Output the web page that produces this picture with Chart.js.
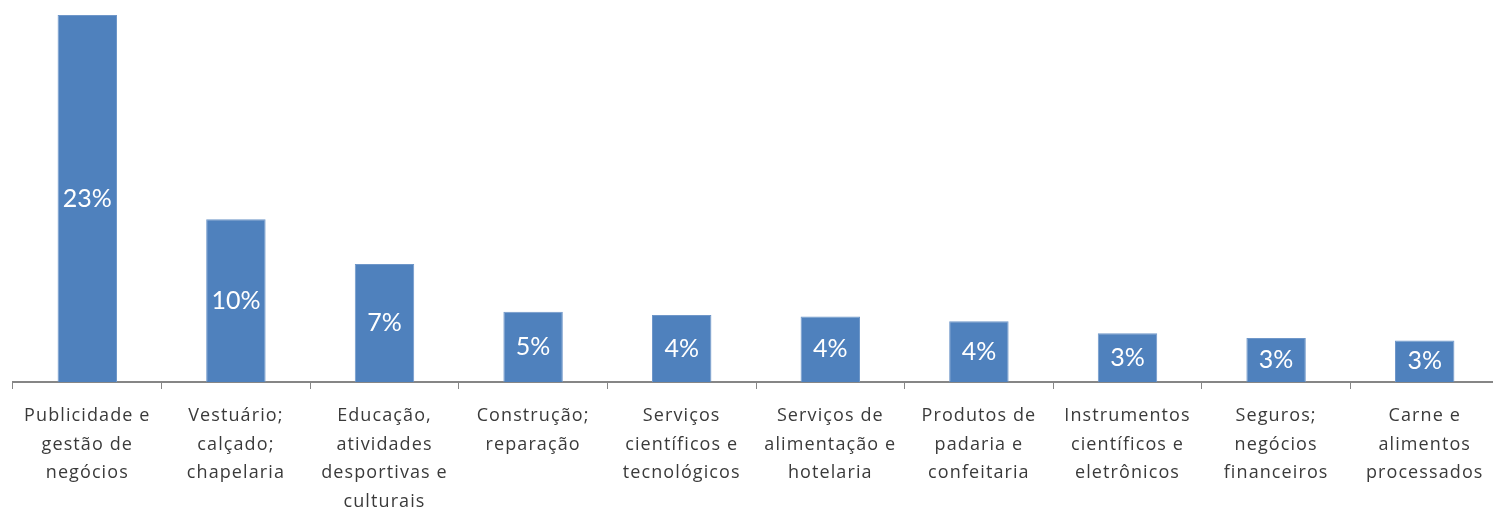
<!DOCTYPE html>
<html>
<head>
<meta charset="utf-8">
<script src="https://cdn.jsdelivr.net/npm/chart.js@4/dist/chart.umd.min.js"></script>
<style>
  html, body { margin: 0; padding: 0; background: #fff; overflow: hidden; }
  #wrap { width: 1500px; height: 512px; position: relative; }
  .warm { position: absolute; left: -9999px; top: 0; }
</style>
</head>
<body>
<div class="warm" style="font-family: Lato">23%</div>
<div class="warm" style="font-family: 'Open Sans'">Publicidade</div>
<div id="wrap"><canvas id="barChart"></canvas></div>
<script>
// categories (one array per label, one entry per line)
const categories = [
    ["Publicidade e", "gestão de", "negócios"],
    ["Vestuário;", "calçado;", "chapelaria"],
    ["Educação,", "atividades", "desportivas e", "culturais"],
    ["Construção;", "reparação"],
    ["Serviços", "científicos e", "tecnológicos"],
    ["Serviços de", "alimentação e", "hotelaria"],
    ["Produtos de", "padaria e", "confeitaria"],
    ["Instrumentos", "científicos e", "eletrônicos"],
    ["Seguros;", "negócios", "financeiros"],
    ["Carne e", "alimentos", "processados"]
];
// bar heights (percent)
const shares = [23.0, 10.2, 7.4, 4.4, 4.2, 4.1, 3.8, 3.05, 2.75, 2.6];
// the labels printed inside the bars
const shareLabels = ["23%", "10%", "7%", "5%", "4%", "4%", "4%", "3%", "3%", "3%"];

const LABEL_FONT = "'Open Sans', sans-serif";
const VALUE_FONT = "Lato, 'Open Sans', sans-serif";

// a little tracking for the axis text, like the original
const tracking = {
    id: "tracking",
    beforeDraw(chart) {
        chart.ctx.letterSpacing = "1.1px";
    }
};

// writes the percentage in the middle of each bar
const insideLabels = {
    id: "insideLabels",
    afterDatasetsDraw(chart) {
        const ctx = chart.ctx;
        const meta = chart.getDatasetMeta(0);
        ctx.save();
        ctx.letterSpacing = "0px";
        ctx.fillStyle = "#ffffff";
        ctx.font = "25px " + VALUE_FONT;
        ctx.textAlign = "center";
        ctx.textBaseline = "middle";
        meta.data.forEach((bar, i) => {
            ctx.fillText(shareLabels[i], bar.x, (bar.y + bar.base) / 2);
        });
        ctx.restore();
    }
};

function drawChart() {
    const ctx = document.getElementById("barChart");
    new Chart(ctx, {
        type: "bar",
        data: {
            labels: categories,
            datasets: [{
                data: shares,
                backgroundColor: "#4f81bd",
                borderColor: "#6f97c9",
                borderWidth: 1,
                barPercentage: 0.4,
                categoryPercentage: 1.0
            }]
        },
        options: {
            responsive: true,
            maintainAspectRatio: false,
            animation: false,
            layout: { padding: { left: 13, right: 1, top: 15, bottom: 0 } },
            plugins: {
                legend: { display: false },
                tooltip: { enabled: false }
            },
            scales: {
                x: {
                    offset: true,
                    grid: {
                        offset: true,
                        drawOnChartArea: false,
                        drawTicks: true,
                        tickLength: 7,
                        color: "#868686",
                        lineWidth: 1
                    },
                    border: { display: true, color: "#868686", width: 2 },
                    ticks: {
                        autoSkip: false,
                        maxRotation: 0,
                        minRotation: 0,
                        padding: 13,
                        color: "#3a3a3a",
                        font: { family: LABEL_FONT, size: 18, lineHeight: 1.58 }
                    },
                    afterFit(scale) { scale.height = 130; }
                },
                y: {
                    display: false,
                    min: 0,
                    max: 23
                }
            }
        },
        plugins: [tracking, insideLabels]
    });
}

document.fonts.load("25px Lato").then(() => document.fonts.load("18px 'Open Sans'")).then(drawChart, drawChart);
</script>
</body>
</html>
